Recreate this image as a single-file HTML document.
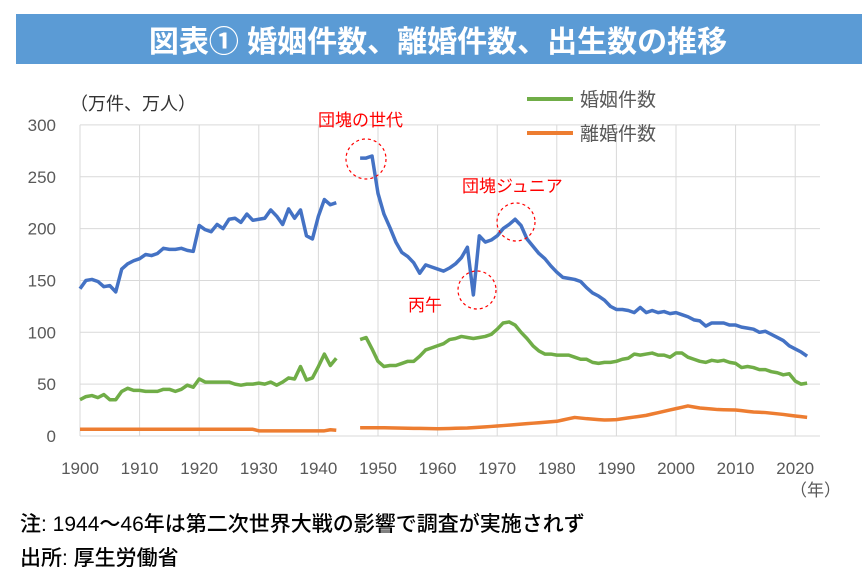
<!DOCTYPE html>
<html><head><meta charset="utf-8"><style>
body{margin:0;background:#fff;width:862px;height:582px;overflow:hidden;font-family:"Liberation Sans","Noto Sans CJK JP",sans-serif}
</style></head><body>
<svg width="862" height="582" xmlns="http://www.w3.org/2000/svg" font-family="'Liberation Sans','Noto Sans CJK JP',sans-serif">
<rect x="16" y="14" width="846" height="50" fill="#5b9bd5"/>
<text x="438" y="52" text-anchor="middle" font-size="30" font-weight="bold" fill="#fff">図表①  婚姻件数、離婚件数、出生数の推移</text>
<g id="plot"></g>
<text x="70" y="110" font-size="18" fill="#333">（万件、万人）</text>
<line x1="527" y1="99" x2="573" y2="99" stroke="#70ad47" stroke-width="4"/>
<text x="580" y="106" font-size="19" fill="#595959">婚姻件数</text>
<line x1="527" y1="133" x2="573" y2="133" stroke="#ed7d31" stroke-width="4"/>
<text x="580" y="140" font-size="19" fill="#595959">離婚件数</text>
<text x="318" y="126" font-size="17" fill="#ff0000">団塊の世代</text>
<text x="462" y="192" font-size="17" fill="#ff0000">団塊ジュニア</text>
<text x="408" y="311" font-size="17" fill="#ff0000">丙午</text>
<g fill="none" stroke="#ff0000" stroke-width="1.2" stroke-dasharray="3,3">
<circle cx="366" cy="159" r="20"/><circle cx="516" cy="222" r="19"/><circle cx="477" cy="290" r="19"/>
</g>
<text x="790" y="496" font-size="17" fill="#595959">（年）</text>
<text x="20" y="531" font-size="21" font-weight="500" fill="#000">注: 1944～46年は第二次世界大戦の影響で調査が実施されず</text>
<text x="20" y="565" font-size="21" font-weight="500" fill="#000">出所: 厚生労働省</text>
</svg>
<script>
const ns="http://www.w3.org/2000/svg",g=document.getElementById("plot");
const X=y=>80+(y-1900)*5.96, Y=v=>436-v*1.037;
function el(t,a,txt){const e=document.createElementNS(ns,t);for(const k in a)e.setAttribute(k,a[k]);if(txt!==undefined)e.textContent=txt;g.appendChild(e);return e;}
for(let v=0;v<=300;v+=50){el("line",{x1:80,x2:820,y1:Y(v),y2:Y(v),stroke:"#d9d9d9"});el("text",{x:56,y:Y(v)+6,"text-anchor":"end","font-size":17,fill:"#595959"},String(v));}
for(let y=1900;y<=2020;y+=10){el("line",{x1:X(y),x2:X(y),y1:Y(300),y2:Y(0),stroke:"#d9d9d9"});el("text",{x:X(y),y:474,"text-anchor":"middle","font-size":17,fill:"#595959"},String(y));}
const b1=[142,150,151,149,144,145,139,161,166,169,171,175,174,176,181,180,180,181,179,178,203,199,197,204,200,209,210,206,214,208,209,210,218,212,204,219,210,218,193,190,212,228,223,225];
const b2=[268,268,270,234,214,201,187,177,173,167,157,165,163,161,159,162,166,172,182,136,193,187,189,193,200,204,209,203,190,183,176,171,164,158,153,152,151,149,143,138,135,131,125,122,122,121,119,124,119,121,119,120,118,119,117,115,112,111,106,109,109,109,107,107,105,104,103,100,101,98,95,92,87,84,81,77];
const m1=[35,38,39,37,40,35,35,43,46,44,44,43,43,43,45,45,43,45,49,47,55,52,52,52,52,52,50,49,50,50,51,50,52,49,52,56,55,67,54,56,67,79,68,75];
const m2=[93,95,84,72,67,68,68,70,72,72,77,83,85,87,89,93,94,96,95,94,95,96,98,103,109,110,107,100,94,87,82,79,79,78,78,78,76,74,74,71,70,71,71,72,74,75,79,78,79,80,78,78,76,80,80,76,74,72,71,73,72,73,71,70,66,67,66,64,64,62,61,59,60,53,50,51];
const d1=b1.map((_,i)=>i<30?6.5:(i<42?5:5.5)); d1[42]=6;d1[43]=5.5;
const dk={1947:8,1950:8,1955:7.5,1960:7,1965:7.7,1970:9.6,1975:11.9,1980:14.2,1983:17.9,1985:16.7,1988:15.4,1990:15.8,1995:19.9,2000:26.4,2002:29,2004:27,2007:25.5,2010:25.1,2013:23.1,2015:22.6,2018:20.8,2020:19.3,2022:18};
const d2=[];const ks=Object.keys(dk).map(Number);
for(let y=1947;y<=2022;y++){let i=ks.findIndex(k=>k>=y);if(ks[i]==y)d2.push(dk[y]);else{const a=ks[i-1],b=ks[i];d2.push(dk[a]+(dk[b]-dk[a])*(y-a)/(b-a));}}
function line(arr,start,col){el("polyline",{points:arr.map((v,i)=>X(start+i)+","+Y(v)).join(" "),fill:"none",stroke:col,"stroke-width":3.5,"stroke-linejoin":"round"});}
line(b1,1900,"#4472c4");line(b2,1947,"#4472c4");
line(m1,1900,"#70ad47");line(m2,1947,"#70ad47");
line(d1,1900,"#ed7d31");line(d2,1947,"#ed7d31");
</script>
</body></html>
